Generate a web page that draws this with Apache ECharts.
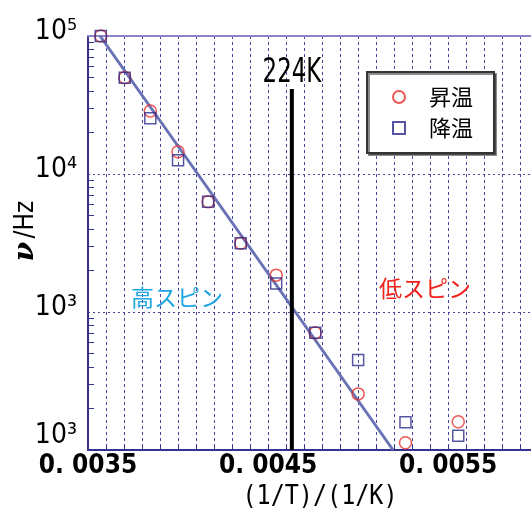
<!DOCTYPE html>
<html><head><meta charset="utf-8">
<script src="https://cdn.jsdelivr.net/npm/echarts@6/dist/echarts.min.js"></script>
<style>html,body{margin:0;padding:0;background:#fff}#c{width:531px;height:516px}</style>
</head><body><div id="c"></div>
<script>
// ---- data ----
const invT = [0.003571, 0.003704, 0.003846, 0.004000, 0.004167, 0.004348, 0.004545, 0.004762, 0.005000, 0.005263, 0.005556];
const heating = [100000, 49900, 28600, 14500, 6300, 3150, 1850, 708, 255, 113, 160];
const cooling = [100000, 49900, 25300, 12600, 6300, 3150, 1610, 708, 449, 159, 127];
const fitX = [0.003567, 0.005194];
const fitY = [100000, 100];
const transitionX = [0.004632, 0.004632];
const transitionY = [41300, 100];
const seriesNames = ['昇温', '降温'];
const xMin = 0.0035, xMax = 0.00596, xStep = 0.0001;
const xTickValues = [0.0035, 0.0045, 0.0055];
const xTickLabels = ['0. 0035', '0. 0045', '0. 0055'];
const yTickValues = [100, 1000, 10000, 100000];
const yTickLabels = ['10³', '10³', '10⁴', '10⁵'];
const yMinorTicks = [200, 300, 400, 500, 600, 700, 800, 900,
  2000, 3000, 4000, 5000, 6000, 7000, 8000, 9000,
  20000, 30000, 40000, 50000, 60000, 70000, 80000, 90000];
const annot224 = '224K';
const highSpin = '高スピン';
const lowSpin = '低スピン';
const xName = '(1/T)/(1/K)';
const yNameSym = 'ν';
const yNameUnit = '/Hz';

// ---- chart ----
const COND = "'DejaVu Sans Condensed', 'DejaVu Sans', sans-serif";
const MONO = "'DejaVu Sans Mono', monospace";
const JP = "'Noto Sans CJK JP', sans-serif";
const AX = '#36328e';
const GRIDC = '#4a46a0';
const chart = echarts.init(document.getElementById('c'), null, {renderer: 'canvas'});
const pairs = (xs, ys) => xs.map((x, i) => [x, ys[i]]);

chart.setOption({
  animation: false,
  backgroundColor: '#fff',
  grid: {left: 88, top: 36, width: 443, height: 414, show: false},
  xAxis: [{
    type: 'value', min: xMin, max: xMax, interval: xStep,
    axisLine: {lineStyle: {color: AX, width: 2}},
    axisTick: {show: true, inside: true, length: 5, lineStyle: {color: AX, width: 1}},
    splitLine: {show: true, lineStyle: {color: GRIDC, width: 1, type: [3, 3]}},
    axisLabel: {
      margin: 3, color: '#000', fontFamily: COND, fontWeight: 'bold', fontSize: 26,
      showMaxLabel: false,
      formatter: v => { const i = xTickValues.findIndex(t => Math.abs(t - v) < 1e-9); return i >= 0 ? xTickLabels[i] : ''; }
    }
  }, {
    type: 'value', min: xMin, max: xMax, position: 'top',
    axisLine: {show: true, lineStyle: {color: '#8a86c8', width: 2}},
    axisTick: {show: false}, axisLabel: {show: false}, splitLine: {show: false}
  }],
  yAxis: [{
    type: 'log', logBase: 10, min: 100, max: 100000,
    axisLine: {show: true, lineStyle: {color: AX, width: 2}},
    axisTick: {show: false},
    splitLine: {show: true, lineStyle: {color: GRIDC, width: 1, type: [2, 3]}},
    axisLabel: {
      margin: 11, color: '#000',
      formatter: v => { const i = yTickValues.findIndex(t => Math.abs(t - v) / t < 1e-6); if (i < 0) return ''; return (i === 0 ? '{b|' : '{a|') + yTickLabels[i] + '}'; },
      rich: {
        a: {fontFamily: COND, fontSize: 28, lineHeight: 30, padding: [0, 0, 8, 0], color: '#000'},
        b: {fontFamily: COND, fontSize: 28, lineHeight: 30, padding: [0, 0, 28, 0], color: '#000'}
      }
    }
  }, {
    type: 'log', logBase: 10, min: 100, max: 100000, position: 'left',
    axisLine: {show: false}, splitLine: {show: false}, axisLabel: {show: false},
    axisTick: {show: true, inside: true, length: 6, customValues: yMinorTicks, lineStyle: {color: AX, width: 1}}
  }],
  legend: {
    data: seriesNames, orient: 'vertical', left: 367, top: 72,
    padding: [14, 21, 14, 25], itemGap: 9, itemWidth: 12, itemHeight: 12,
    backgroundColor: '#fff', borderColor: '#333', borderWidth: 2, borderRadius: 0,
    shadowColor: 'rgba(0,0,0,0.45)', shadowOffsetX: 2, shadowOffsetY: 2, shadowBlur: 0,
    textStyle: {fontFamily: JP, fontSize: 22, color: '#000', padding: [0, 0, 0, 19]}
  },
  series: [
    {
      name: 'fit', type: 'line', data: pairs(fitX, fitY), symbol: 'none', silent: true,
      lineStyle: {color: '#6a72b6', width: 3}, z: 2
    },
    {
      name: '224K', type: 'line', data: pairs(transitionX, transitionY), symbol: 'none', silent: true,
      lineStyle: {color: '#000', width: 4}, z: 3
    },
    {
      name: seriesNames[0], type: 'scatter', data: pairs(invT, heating),
      symbol: 'circle', symbolSize: 12,
      itemStyle: {color: 'rgba(0,0,0,0)', borderColor: '#e8302a', borderWidth: 1.5}, z: 4
    },
    {
      name: seriesNames[1], type: 'scatter', data: pairs(invT, cooling),
      symbol: 'rect', symbolSize: 11,
      itemStyle: {color: 'rgba(0,0,0,0)', borderColor: '#2c2a8a', borderWidth: 1.5}, z: 4
    }
  ],
  graphic: [
    {type: 'text', x: 292, y: 73, scaleX: 0.75, z: 10, style: {text: annot224, font: '34px ' + COND, fill: '#000', align: 'center', verticalAlign: 'middle'}},
    {type: 'text', x: 177, y: 297, z: 10, style: {text: highSpin, font: '23px ' + JP, fill: '#1ea5e3', align: 'center', verticalAlign: 'middle'}},
    {type: 'text', x: 425, y: 288, z: 10, style: {text: lowSpin, font: '23px ' + JP, fill: '#f0201a', align: 'center', verticalAlign: 'middle'}},
    {type: 'text', x: 320, y: 497, scaleX: 0.9, z: 10, style: {text: xName, font: '26px ' + MONO, fill: '#000', align: 'center', verticalAlign: 'middle'}},
    {type: 'text', x: 26, y: 231, rotation: Math.PI / 2, z: 10, style: {
      text: '{n|' + yNameSym + '} {u|' + yNameUnit + '}', align: 'center', verticalAlign: 'middle',
      rich: {n: {font: 'bold italic 28px "DejaVu Serif", serif', fill: '#000'}, u: {font: '26px ' + COND, fill: '#000'}}
    }}
  ]
});
</script>
</body></html>
